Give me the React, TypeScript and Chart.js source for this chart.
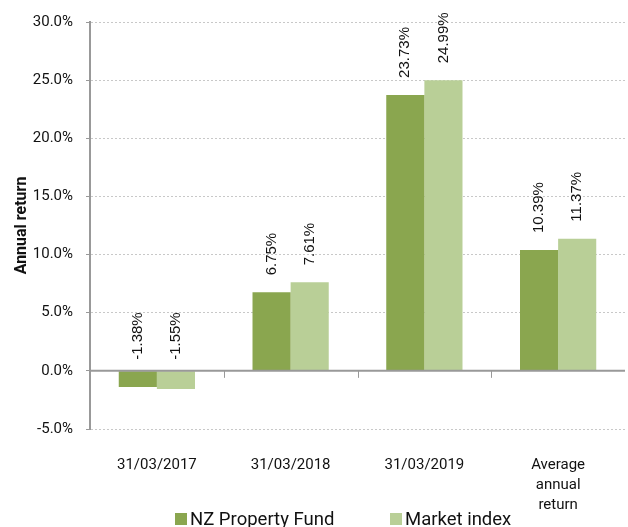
import React, { useEffect, useRef } from "react";
import { Chart, registerables } from "chart.js";

Chart.register(...registerables);

const categories: (string | string[])[] = ["31/03/2017", "31/03/2018", "31/03/2019", ["Average", "annual", "return"]];
const fundValues = [-1.38, 6.75, 23.73, 10.39];
const indexValues = [-1.55, 7.61, 24.99, 11.37];
const seriesNames = ["NZ Property Fund", "Market index"];
const seriesColors = ["#8aa64f", "#b9cf97"];
const yMin = -5;
const yMax = 30;
const yStep = 5;

const labelsPlugin = {
  id: "barLabels",
  afterDatasetsDraw(chart: any) {
    const ctx = chart.ctx;
    const yScale = chart.scales.y;
    const xScale = chart.scales.x;
    const zero = yScale.getPixelForValue(0);
    ctx.save();
    // zero line
    ctx.strokeStyle = "#999999";
    ctx.lineWidth = 2;
    ctx.beginPath();
    ctx.moveTo(chart.chartArea.left, zero);
    ctx.lineTo(chart.chartArea.right, zero);
    ctx.stroke();
    // category boundary ticks
    ctx.lineWidth = 1;
    const n = categories.length;
    for (let i = 1; i < n; i++) {
      const xb = Math.round((xScale.getPixelForValue(i - 1) + xScale.getPixelForValue(i)) / 2) + 0.5;
      ctx.beginPath();
      ctx.moveTo(xb, zero);
      ctx.lineTo(xb, zero + 7);
      ctx.stroke();
    }
    // value labels
    ctx.fillStyle = "#111111";
    ctx.font = "15px 'Liberation Sans', Arial, sans-serif";
    ctx.textAlign = "left";
    ctx.textBaseline = "middle";
    chart.data.datasets.forEach((ds: any, di: number) => {
      const meta = chart.getDatasetMeta(di);
      meta.data.forEach((el: any, i: number) => {
        const v = ds.data[i];
        const y = v >= 0 ? el.y - 17 : zero - 11;
        ctx.save();
        ctx.translate(el.x, y);
        ctx.rotate(-Math.PI / 2);
        ctx.fillText(v.toFixed(2) + "%", 0, 0);
        ctx.restore();
      });
    });
    // legend
    ctx.font = "18.5px Roboto, sans-serif";
    ctx.textBaseline = "middle";
    seriesNames.forEach((name, i) => {
      const bx = 175 + i * 215;
      ctx.fillStyle = seriesColors[i];
      ctx.fillRect(bx, 513, 12, 12);
      ctx.fillStyle = "#111111";
      ctx.fillText(name, bx + 15, 520);
    });
    ctx.restore();
  },
};

export default function App() {
  const ref = useRef<HTMLCanvasElement | null>(null);
  useEffect(() => {
    if (!ref.current) return;
    const chart = new Chart(ref.current, {
      type: "bar",
      data: {
        labels: categories as any,
        datasets: [
          { label: seriesNames[0], data: fundValues, backgroundColor: seriesColors[0], categoryPercentage: 0.57, barPercentage: 1 },
          { label: seriesNames[1], data: indexValues, backgroundColor: seriesColors[1], categoryPercentage: 0.57, barPercentage: 1 },
        ],
      },
      options: {
        animation: false,
        responsive: false,
        maintainAspectRatio: false,
        layout: { padding: { top: 21, right: 3, left: 0, bottom: 0 } },
        plugins: { legend: { display: false }, tooltip: { enabled: false } },
        scales: {
          x: {
            grid: { display: false, drawTicks: false },
            border: { display: false },
            ticks: {
              font: { family: "Roboto", size: 15, lineHeight: 1.33 },
              color: "#111111",
              padding: 26,
              maxRotation: 0,
              autoSkip: false,
            },
            afterFit(scale: any) {
              scale.height = 98;
            },
          },
          y: {
            min: yMin,
            max: yMax,
            title: {
              display: true,
              text: "Annual return",
              font: { family: "Roboto", size: 16, weight: "bold" },
              color: "#111111",
              padding: { top: 12, bottom: 0 },
            },
            ticks: {
              stepSize: yStep,
              font: { family: "Roboto", size: 15 },
              color: "#111111",
              padding: 13,
              callback: (v: any) => Number(v).toFixed(1) + "%",
            },
            grid: {
              color: "#c8c8c8",
              tickColor: "#999999",
              tickLength: 4,
              tickBorderDash: [],
              lineWidth: 1,
            },
            border: { display: true, color: "#999999", width: 2, dash: [2, 2] },
            afterFit(scale: any) {
              scale.width = 90;
            },
          },
        },
      },
      plugins: [labelsPlugin],
    });
    return () => chart.destroy();
  }, []);
  return (
    <div style={{ position: "fixed", left: 0, top: 0, width: 628, height: 527, background: "#fff" }}>
      <canvas ref={ref} width={628} height={527} style={{ width: 628, height: 527 }} />
    </div>
  );
}
